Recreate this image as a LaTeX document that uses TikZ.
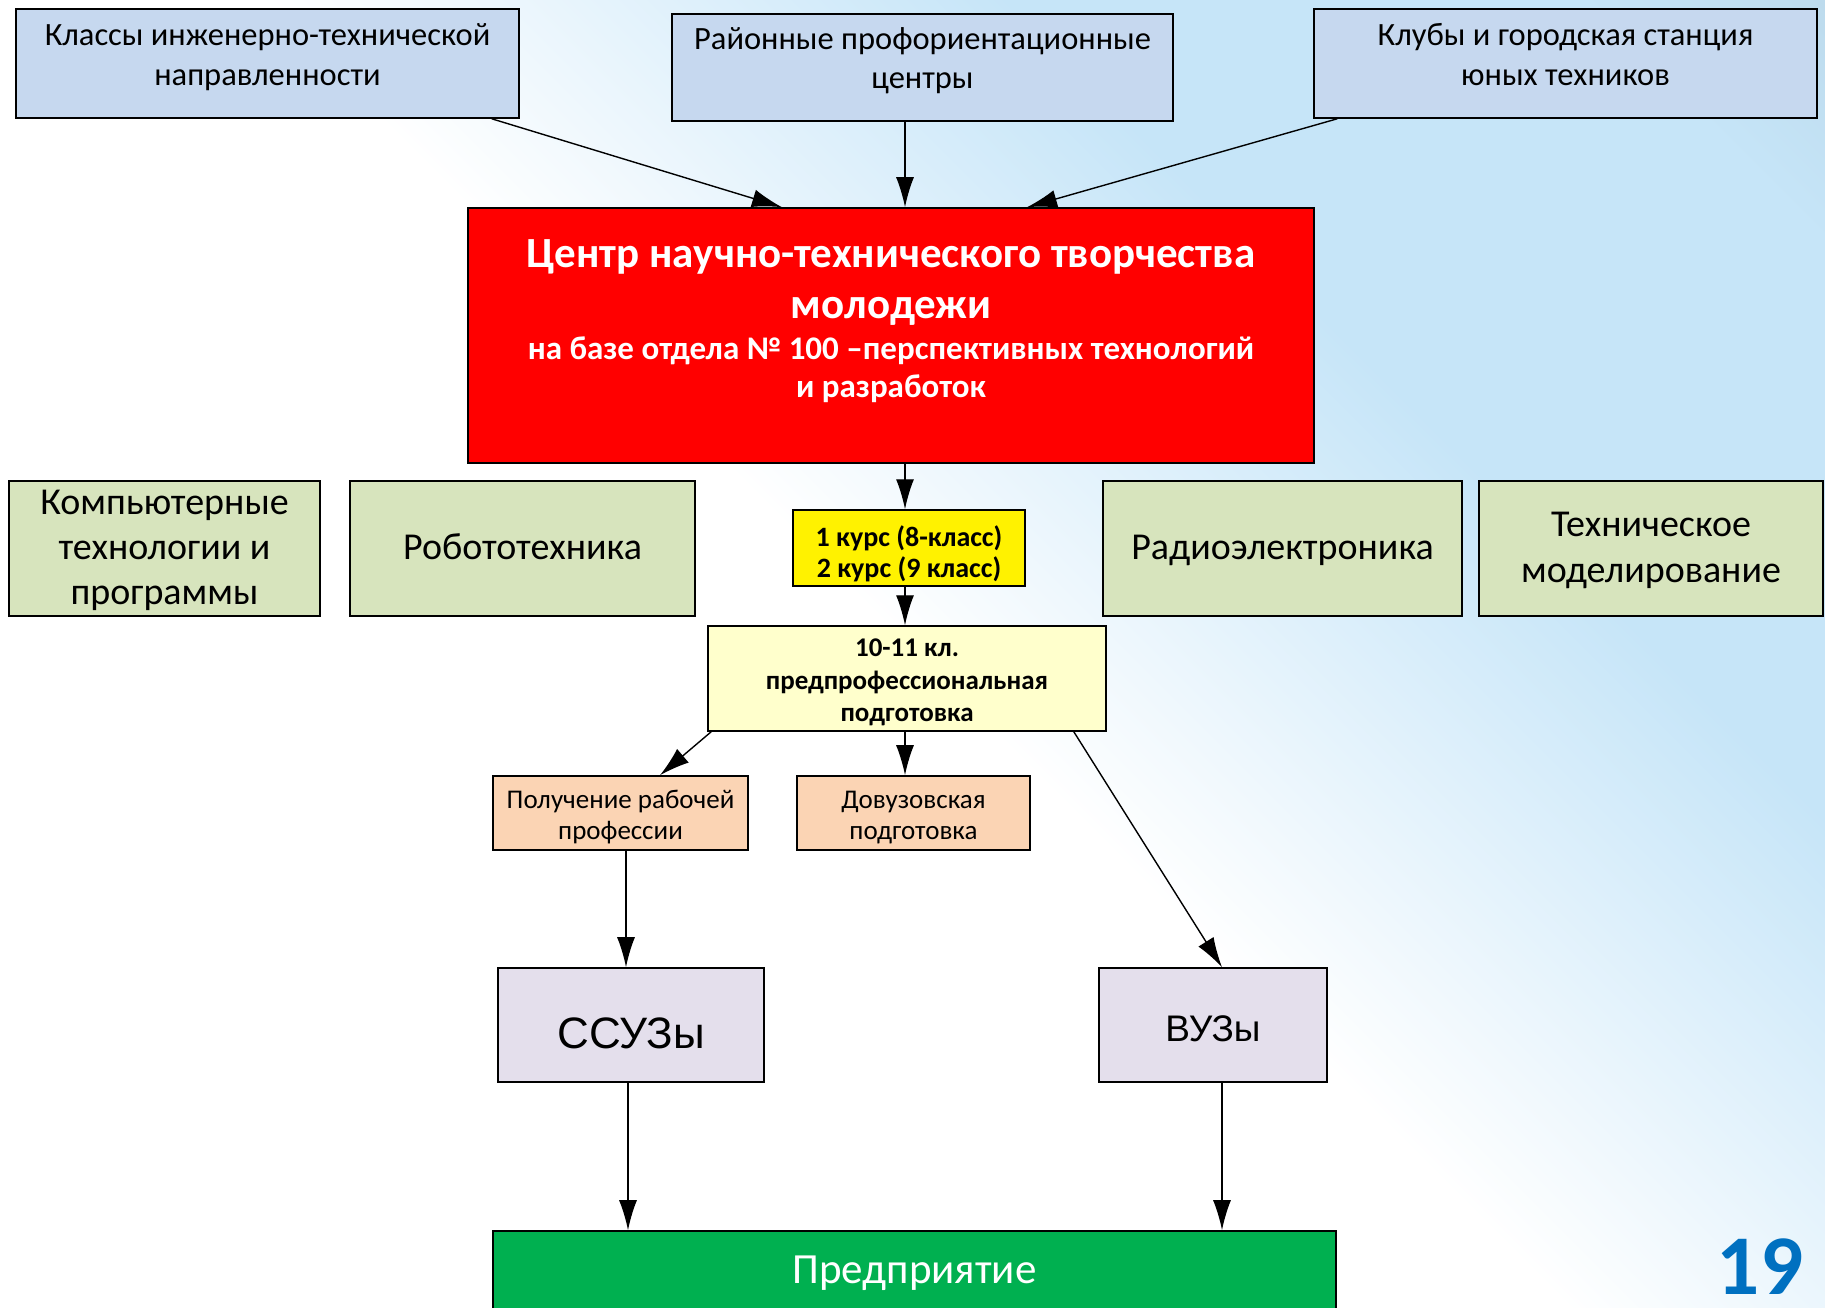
\documentclass[tikz,border=0pt]{standalone}
\usepackage{fontspec}
\setmainfont{Carlito}
\newfontfamily\arialf{Liberation Sans}
\usetikzlibrary{arrows.meta}
\definecolor{bgblue}{HTML}{C6E5F8}
\definecolor{bgdark}{HTML}{B6D3E4}
\definecolor{topbox}{HTML}{C6D8EF}
\definecolor{grnbox}{HTML}{D7E4BD}
\definecolor{lyel}{HTML}{FFFFCC}
\definecolor{peach}{HTML}{FBD4B4}
\definecolor{lilac}{HTML}{E4DFEC}
\definecolor{entgreen}{HTML}{00B050}
\definecolor{numblue}{HTML}{0070C0}
\pgfdeclarehorizontalshading{bgsh}{100bp}{color(0bp)=(white); color(50bp)=(white); color(67bp)=(bgblue); color(80bp)=(bgblue); color(90bp)=(bgdark); color(100bp)=(bgdark)}
\newcommand{\fs}[1]{\fontsize{#1}{1.22\dimexpr #1pt\relax}\selectfont}
\newcommand{\hh}[1]{\rule{0pt}{#1pt}}
\newcommand{\dd}[1]{\rule[-#1pt]{0pt}{#1pt}}
\begin{document}
\begin{tikzpicture}[x=1pt,y=-1pt,
  box/.style={draw=black, line width=1.6pt, inner sep=0pt, align=center, text=black},
  conn/.style={line width=1.4pt, -{Latex[length=30pt,width=18pt]}}]
\useasboundingbox (0,0) rectangle (1825,1307);
\shade[shading=bgsh, shading angle=45] (0,0) rectangle (1825,1307);
\begin{scope}
\clip (0,0) rectangle (1825,1307);
% top row
\node[box, fill=topbox, minimum width=503pt, minimum height=109pt, font=\fs{32.5}] (tl) at (267.5,63.5) {\hh{30}Классы инженерно-технической\\направленности\dd{26}};
\node[box, fill=topbox, minimum width=501pt, minimum height=107pt, font=\fs{32.5}] (tm) at (922.5,67.5) {\hh{30}Районные профориентационные\\центры\dd{27}};
\node[box, fill=topbox, minimum width=503pt, minimum height=109pt, font=\fs{32.5}] (tr) at (1565.5,63.5) {\hh{30}Клубы и городская станция\\юных техников\dd{26}};
% red centre
\node[box, fill=red, text=white, minimum width=846pt, minimum height=255pt, font=\bfseries\fs{43}] (ctr) at (891,335.5)
 {\hh{40}Центр научно-технического творчества\\[-1pt]молодежи\\[-11.5pt]
  \fs{33}на базе отдела № 100 –перспективных технологий\\[-14pt]\fs{33}и разработок\dd{46}};
% green row
\node[box, fill=grnbox, minimum width=311pt, minimum height=135pt, font=\fs{38}] (comp) at (164.5,548.5) {\hh{33}Компьютерные\\[-1.4pt]технологии и\\[-1.4pt]программы\dd{11}};
\node[box, fill=grnbox, minimum width=345pt, minimum height=135pt, font=\fs{38}] (robo) at (522.5,548.5) {\hh{35}Робототехника\dd{13}};
\node[box, fill=grnbox, minimum width=359pt, minimum height=135pt, font=\fs{38}] (radio) at (1282.5,548.5) {\hh{35}Радиоэлектроника\dd{13}};
\node[box, fill=grnbox, minimum width=344pt, minimum height=135pt, font=\fs{38}] (tech) at (1651,548.5) {\hh{35}Техническое\\моделирование\dd{13}};
% yellow
\node[box, fill=yellow, minimum width=232pt, minimum height=74pt, font=\bfseries\fs{28}] (yel) at (909,548) {\hh{36}1 курс (8-класс)\\[-2.3pt]2 курс (9 класс)\dd{8}};
\node[box, fill=lyel, minimum width=398pt, minimum height=103pt, font=\bfseries\fs{27}] (ly) at (907,678.5) {\hh{30}10-11 кл.\\предпрофессиональная\\подготовка\dd{9}};
% peach
\node[box, fill=peach, minimum width=255pt, minimum height=74pt, font=\fs{27}] (p1) at (620.5,813) {\hh{30}Получение рабочей\\[-1.3pt]профессии\dd{8}};
\node[box, fill=peach, minimum width=233pt, minimum height=74pt, font=\fs{27}] (p2) at (913.5,813) {\hh{30}Довузовская\\[-1.3pt]подготовка\dd{8}};
% lilac
\node[box, fill=lilac, minimum width=266pt, minimum height=114pt, font=\arialf\fs{44}] (ssuz) at (631,1025) {\hh{48}ССУЗы\dd{1}};
\node[box, fill=lilac, minimum width=228pt, minimum height=114pt, font=\arialf\fs{37}] (vuz) at (1213,1025) {\hh{34}ВУЗы\dd{1}};
% enterprise
\node[box, fill=entgreen, text=white, minimum width=843pt, minimum height=100pt, font=\fs{43}] (ent) at (914.5,1281) {\hh{34}Предприятие\dd{30}};
% page number
\node[text=numblue, font=\bfseries\fs{85}, inner sep=0pt] (num) at (1760,1267) {19};
% connectors
\draw[conn] ([xshift=-28pt]tl.south east) -- ([xshift=-109pt]ctr.north);
\draw[conn] ([xshift=-17.5pt]tm.south) -- ([xshift=-17.5pt]tm.south |- ctr.north);
\draw[conn] ([xshift=24pt]tr.south west) -- ([xshift=136pt]ctr.north);
\draw[conn] ([xshift=14pt]ctr.south) -- ([xshift=14pt]ctr.south |- yel.north);
\draw[conn] ([xshift=-4pt]yel.south) -- ([xshift=-4pt]yel.south |- ly.north);
\draw[conn] ([xshift=4pt]ly.south west) -- ([xshift=39.5pt]p1.north);
\draw[conn] ([xshift=-2pt]ly.south) -- ([xshift=-2pt]ly.south |- p2.north);
\draw[conn] ([xshift=-33pt]ly.south east) -- ([xshift=9pt]vuz.north);
\draw[conn] ([xshift=5.5pt]p1.south) -- ([xshift=5.5pt]p1.south |- ssuz.north);
\draw[conn] ([xshift=-3pt]ssuz.south) -- ([xshift=-3pt]ssuz.south |- ent.north);
\draw[conn] ([xshift=9pt]vuz.south) -- ([xshift=9pt]vuz.south |- ent.north);
\end{scope}
\end{tikzpicture}
\end{document}
